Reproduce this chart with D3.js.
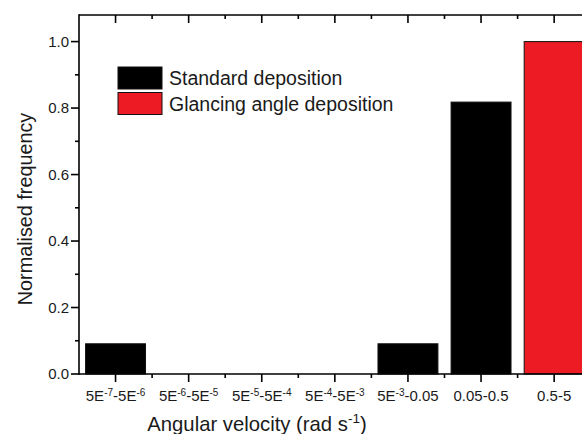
<!DOCTYPE html>
<html>
<head>
<meta charset="utf-8">
<script src="https://cdn.jsdelivr.net/npm/d3@7"></script>
<style>
  body { margin: 0; background: #fff; }
  svg { display: block; font-family: "Liberation Sans", Arial, sans-serif; }
</style>
</head>
<body>
<script>
// categories, ^{..} marks a superscript
var categories = ["5E^{-7}-5E^{-6}", "5E^{-6}-5E^{-5}", "5E^{-5}-5E^{-4}", "5E^{-4}-5E^{-3}",
                  "5E^{-3}-0.05", "0.05-0.5", "0.5-5"];
var standard = [0.0909, 0, 0, 0, 0.0909, 0.818, 0];
var glancing = [0, 0, 0, 0, 0, 0, 1.0];
var yTicks = [0, 0.2, 0.4, 0.6, 0.8, 1.0];
var yMinor = [0.1, 0.3, 0.5, 0.7, 0.9];
var seriesNames = ["Standard deposition", "Glancing angle deposition"];
var seriesColors = ["#000000", "#ed1c24"];

var w = 582, h = 434;
var plotL = 79, plotT = 15, plotB = 374;
var step = 73.1;
var plotR = plotL + step * categories.length;

var svg = d3.select("body").append("svg")
  .attr("width", w)
  .attr("height", h);

var x = d3.scaleBand()
  .domain(categories)
  .range([plotL, plotR])
  .paddingInner(0.18)
  .paddingOuter(0.09);

var y = d3.scaleLinear()
  .domain([0, 1.08])
  .range([plotB, plotT]);

// bars, both series share the same slot
var series = [standard, glancing];
series.forEach(function(vals, s) {
  svg.append("g").selectAll("rect")
    .data(vals.map(function(v, i) { return {c: categories[i], v: v}; })
      .filter(function(d) { return d.v > 0; }))
    .enter()
    .append("rect")
    .attr("x", function(d) { return x(d.c); })
    .attr("width", x.bandwidth())
    .attr("y", function(d) { return y(d.v); })
    .attr("height", function(d) { return plotB - y(d.v); })
    .style("fill", seriesColors[s])
    .style("stroke", "#111")
    .style("stroke-width", 1);
});

// band edges, used for minor x ticks
var edges = categories.map(function(c) { return x(c) - x.step() * x.paddingInner() / 2; })
  .concat([plotR]);
var centres = categories.map(function(c) { return x(c) + x.bandwidth() / 2; });

var axes = svg.append("g").style("stroke", "#000").style("stroke-width", 1.6);

// frame lines
axes.append("line").attr("x1", plotL).attr("x2", w + 10).attr("y1", plotB).attr("y2", plotB);
axes.append("line").attr("x1", plotL).attr("x2", w + 10).attr("y1", plotT).attr("y2", plotT);
axes.append("line").attr("x1", plotL).attr("x2", plotL).attr("y1", plotT - 0.8).attr("y2", plotB + 0.8);

// x ticks, bottom pointing out and top pointing in
centres.forEach(function(cx) {
  axes.append("line").attr("x1", cx).attr("x2", cx).attr("y1", plotB).attr("y2", plotB + 8);
  axes.append("line").attr("x1", cx).attr("x2", cx).attr("y1", plotT).attr("y2", plotT + 8);
});
edges.slice(1).forEach(function(ex) {
  axes.append("line").attr("x1", ex).attr("x2", ex).attr("y1", plotB).attr("y2", plotB + 4);
  axes.append("line").attr("x1", ex).attr("x2", ex).attr("y1", plotT).attr("y2", plotT + 4);
});

// y ticks
yTicks.forEach(function(t) {
  axes.append("line").attr("x1", plotL - 8).attr("x2", plotL).attr("y1", y(t)).attr("y2", y(t));
});
yMinor.forEach(function(t) {
  axes.append("line").attr("x1", plotL - 4).attr("x2", plotL).attr("y1", y(t)).attr("y2", y(t));
});

svg.append("g").selectAll("text")
  .data(yTicks)
  .enter()
  .append("text")
  .attr("x", plotL - 10)
  .attr("y", function(d) { return y(d) + 5.2; })
  .attr("text-anchor", "end")
  .style("font-size", "15px")
  .style("fill", "#1a1a1a")
  .text(function(d) { return d3.format(".1f")(d); });

// x tick labels with superscripts
var xl = svg.append("g").selectAll("text")
  .data(categories)
  .enter()
  .append("text")
  .attr("x", function(d) { return x(d) + x.bandwidth() / 2; })
  .attr("y", 401)
  .attr("text-anchor", "middle")
  .style("font-size", "15px")
  .style("fill", "#1a1a1a");

xl.each(function(d) {
  var t = d3.select(this);
  var parts = d.split(/(\^\{[^}]*\})/).filter(function(p) { return p.length; });
  var up = false;
  parts.forEach(function(p) {
    if (p[0] === "^") {
      t.append("tspan").attr("dy", -5.5).style("font-size", "10px").text(p.slice(2, -1));
      up = true;
    } else {
      t.append("tspan").attr("dy", up ? 5.5 : 0).text(p);
      up = false;
    }
  });
});

// axis titles
var xt = svg.append("text")
  .attr("x", 257)
  .attr("y", 431)
  .attr("text-anchor", "middle")
  .style("font-size", "20.3px")
  .style("fill", "#1a1a1a");
xt.append("tspan").text("Angular velocity (rad s");
xt.append("tspan").attr("dy", -8).style("font-size", "13.5px").text("-1");
xt.append("tspan").attr("dy", 8).text(")");

svg.append("text")
  .attr("transform", "translate(32,209) rotate(-90)")
  .attr("text-anchor", "middle")
  .style("font-size", "19.8px")
  .style("fill", "#1a1a1a")
  .text("Normalised frequency");

// legend
var lg = svg.append("g").selectAll("g")
  .data(seriesNames)
  .enter()
  .append("g")
  .attr("transform", function(d, i) { return "translate(118," + (67 + i * 25.5) + ")"; });

lg.append("rect")
  .attr("width", 44)
  .attr("height", 22)
  .style("fill", function(d, i) { return seriesColors[i]; })
  .style("stroke", "#111")
  .style("stroke-width", 1);

lg.append("text")
  .attr("x", 51)
  .attr("y", 18)
  .style("font-size", "19.5px")
  .style("fill", "#1a1a1a")
  .text(function(d) { return d; });
</script>
</body>
</html>
